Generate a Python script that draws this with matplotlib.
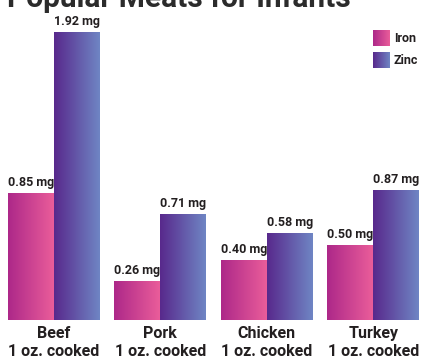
import numpy as np
import matplotlib
matplotlib.use("Agg")
import matplotlib.pyplot as plt
from matplotlib.colors import LinearSegmentedColormap
from matplotlib.transforms import blended_transform_factory

# data
meats = ["Beef", "Pork", "Chicken", "Turkey"]
serving = "1 oz. cooked"
iron = [0.85, 0.26, 0.40, 0.50]
zinc = [1.92, 0.71, 0.58, 0.87]

font = "Roboto"   # narrowest bold face we have installed
txt_col = "#231f20"

iron_cmap = LinearSegmentedColormap.from_list("iron", ["#ad2889", "#ea5d9a"])
zinc_cmap = LinearSegmentedColormap.from_list("zinc", ["#58298c", "#6f85c4"])
grad = np.linspace(0, 1, 256).reshape(1, -1)

fig = plt.figure(figsize=(4.21, 3.64), dpi=100)
ax = fig.add_axes([8 / 421, 44 / 364, 411 / 421, 300 / 364])

x = np.arange(len(meats))
w = 0.43


def gradient_bars(xpos, vals, cmap):
    bars = ax.bar(xpos, vals, w, color="none", edgecolor="none")
    for b in bars:
        x0, h = b.get_x(), b.get_height()
        im = ax.imshow(grad, extent=[x0, x0 + b.get_width(), 0, h],
                       aspect="auto", cmap=cmap, zorder=2)
        im.set_clip_path(b)
        ax.text(x0 + b.get_width() / 2, h + 0.045, f"{h:.2f} mg",
                ha="center", va="baseline", fontsize=9, fontweight="bold",
                family=font, color=txt_col)
    return bars


gradient_bars(x - w / 2, iron, iron_cmap)
gradient_bars(x + w / 2, zinc, zinc_cmap)

ax.set_xlim(-w, len(meats) - 1 + w)
ax.set_ylim(0, 2.0)
ax.axis("off")

# category labels under the bars
tr = blended_transform_factory(ax.transData, ax.transAxes)
for i, m in enumerate(meats):
    ax.text(i, -0.02, m + "\n" + serving, transform=tr, ha="center", va="top",
            fontsize=11.5, fontweight="bold", family=font, color=txt_col,
            linespacing=1.25, multialignment="center")

# legend swatches
for k, (lab, cm) in enumerate([("Iron", iron_cmap), ("Zinc", zinc_cmap)]):
    y0 = 1 - (46 + k * 22) / 364
    lax = fig.add_axes([373 / 421, y0, 17 / 421, 16 / 364])
    lax.imshow(grad, aspect="auto", cmap=cm)
    lax.axis("off")
    fig.text(394 / 421, y0 + 8 / 364, lab, ha="left", va="center",
             fontsize=9, fontweight="bold", family=font, color=txt_col)

# title sits partly above the top edge, as in the source image
fig.text(7 / 421, 1 - 7 / 364, "Popular Meats for Infants", ha="left",
         va="baseline", fontsize=21.5, fontweight="bold", family=font,
         color="#2b2b2b")

fig.savefig("out.png", dpi=100)
